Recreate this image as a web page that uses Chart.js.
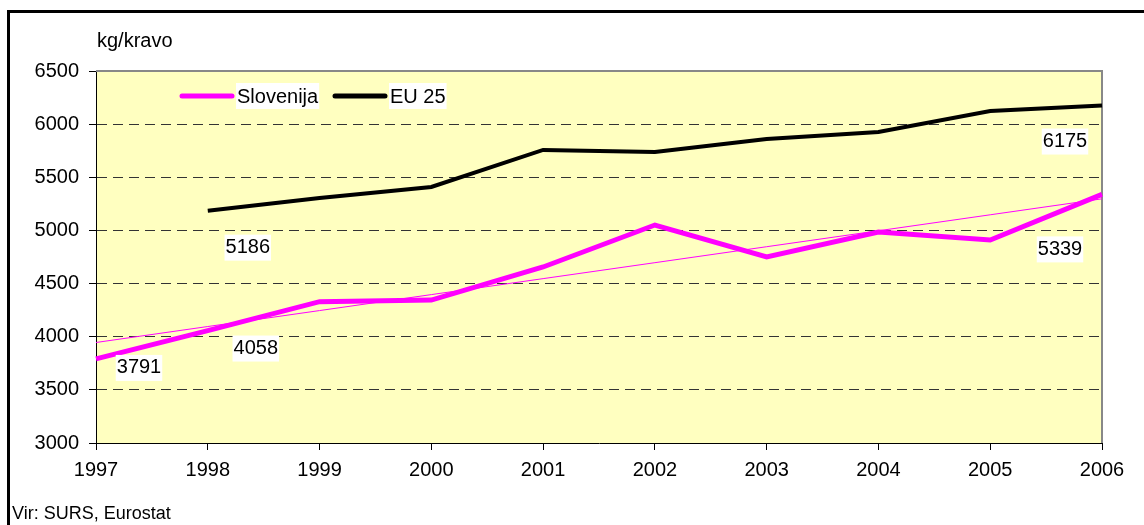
<!DOCTYPE html>
<html>
<head>
<meta charset="utf-8">
<script src="https://cdn.jsdelivr.net/npm/chart.js@4/dist/chart.umd.min.js"></script>
<style>
  html, body { margin: 0; padding: 0; background: #fff; }
  canvas { display: block; }
</style>
</head>
<body>
<canvas id="mleko" width="1144" height="525"></canvas>
<script>
// mleko na kravo, kg
const years = ['1997', '1998', '1999', '2000', '2001', '2002', '2003', '2004', '2005', '2006'];
const slovenija = [3791, 4058, 4330, 4345, 4656, 5051, 4750, 4985, 4910, 5339];
const eu25 = [null, 5186, 5305, 5409, 5757, 5738, 5860, 5926, 6124, 6175];
const yTicks = [3000, 3500, 4000, 4500, 5000, 5500, 6000, 6500];

const FONT = '"Liberation Sans", Arial, sans-serif';
const FS = 20;

// linearni trend za Slovenijo (najmanjši kvadrati)
function linTrend(arr) {
  const n = arr.length;
  let sx = 0, sy = 0, sxy = 0, sxx = 0;
  arr.forEach((v, i) => { sx += i; sy += v; sxy += i * v; sxx += i * i; });
  const k = (n * sxy - sx * sy) / (n * sxx - sx * sx);
  const b = (sy - k * sx) / n;
  return arr.map((v, i) => b + k * i);
}
const trend = linTrend(slovenija);

// which points get a value label, with their offset from the point
const valueLabels = [
  { ds: 0, i: 0, dx: 43, dy: 9 },
  { ds: 0, i: 1, dx: 48, dy: 18 },
  { ds: 0, i: 9, dx: -42, dy: 55 },
  { ds: 1, i: 1, dx: 40, dy: 37 },
  { ds: 1, i: 9, dx: -37, dy: 36 }
];

const decor = {
  id: 'decor',
  beforeDraw(chart) {
    const { ctx, chartArea: a } = chart;
    ctx.save();
    ctx.fillStyle = '#FFFFC0';
    ctx.fillRect(a.left, a.top, a.right - a.left, a.bottom - a.top);
    // outer frame
    ctx.strokeStyle = '#000';
    ctx.lineWidth = 3;
    ctx.beginPath();
    ctx.moveTo(8.5, 600);
    ctx.lineTo(8.5, 11.5);
    ctx.lineTo(1200, 11.5);
    ctx.stroke();
    // unit + source
    ctx.fillStyle = '#000';
    ctx.textBaseline = 'middle';
    ctx.textAlign = 'left';
    ctx.font = FS + 'px ' + FONT;
    ctx.fillText('kg/kravo', 97, 41);
    ctx.font = '18px ' + FONT;
    ctx.fillText('Vir: SURS, Eurostat', 12, 514);
    ctx.restore();
  },
  beforeDatasetsDraw(chart) {
    const { ctx, chartArea: a } = chart;
    ctx.save();
    ctx.strokeStyle = '#888';
    ctx.lineWidth = 2;
    ctx.beginPath();
    ctx.moveTo(a.left, a.top);
    ctx.lineTo(a.right, a.top);
    ctx.lineTo(a.right, a.bottom);
    ctx.stroke();
    ctx.restore();
  },
  afterDatasetsDraw(chart) {
    const { ctx } = chart;
    ctx.save();
    ctx.font = FS + 'px ' + FONT;
    ctx.textBaseline = 'middle';
    ctx.textAlign = 'center';
    valueLabels.forEach(l => {
      const p = chart.getDatasetMeta(l.ds).data[l.i];
      const txt = String(chart.data.datasets[l.ds].data[l.i]);
      const w = ctx.measureText(txt).width;
      const x = p.x + l.dx, y = p.y + l.dy;
      ctx.fillStyle = '#fff';
      ctx.fillRect(x - w / 2 - 1, y - 13, w + 2, 26);
      ctx.fillStyle = '#000';
      ctx.fillText(txt, x, y);
    });

    // legend
    const ly = 96;
    const items = [
      { label: 'Slovenija', color: '#FF00FF', x: 180 },
      { label: 'EU 25', color: '#000', x: 333 }
    ];
    ctx.textAlign = 'left';
    ctx.lineCap = 'round';
    items.forEach(it => {
      ctx.strokeStyle = it.color;
      ctx.lineWidth = 5;
      ctx.beginPath();
      ctx.moveTo(it.x + 2, ly);
      ctx.lineTo(it.x + 52, ly);
      ctx.stroke();
      const w = ctx.measureText(it.label).width;
      ctx.fillStyle = '#fff';
      ctx.fillRect(it.x + 56, ly - 13, w + 2, 26);
      ctx.fillStyle = '#000';
      ctx.fillText(it.label, it.x + 57, ly + 1);
    });
    ctx.restore();
  }
};

new Chart(document.getElementById('mleko'), {
  type: 'line',
  data: {
    labels: years,
    datasets: [
      { label: 'Slovenija', data: slovenija, borderColor: '#FF00FF', borderWidth: 5,
        pointRadius: 0, tension: 0, fill: false, order: 1 },
      { label: 'EU 25', data: eu25, borderColor: '#000', borderWidth: 4,
        pointRadius: 0, tension: 0, fill: false, order: 2 },
      { label: 'trend', data: trend, borderColor: '#FF00FF', borderWidth: 1,
        pointRadius: 0, tension: 0, fill: false, order: 0 }
    ]
  },
  options: {
    responsive: false,
    animation: false,
    events: [],
    layout: { padding: { left: 0, top: 71, right: 42, bottom: 0 } },
    plugins: { legend: { display: false }, tooltip: { enabled: false } },
    scales: {
      x: {
        offset: false,
        grid: { drawOnChartArea: false, drawTicks: true, tickLength: 7, tickColor: '#000' },
        border: { color: '#000', width: 1 },
        ticks: { color: '#000', font: { family: FONT, size: FS }, padding: 8, maxRotation: 0 },
        afterFit(s) { s.height = 82; }
      },
      y: {
        min: 3000, max: 6500,
        afterBuildTicks(s) { s.ticks = yTicks.map(v => ({ value: v })); },
        grid: {
          color: c => (c.tick && (c.tick.value === 3000 || c.tick.value === 6500)) ? 'rgba(0,0,0,0)' : '#333',
          tickBorderDash: [],
          tickColor: '#000',
          tickLength: 7,
          lineWidth: 1
        },
        border: { color: '#000', width: 1, dash: [10, 6] },
        ticks: {
          color: '#000', font: { family: FONT, size: FS }, padding: 10,
          callback: v => String(v)
        },
        afterFit(s) { s.width = 96; }
      }
    }
  },
  plugins: [decor]
});
</script>
</body>
</html>
